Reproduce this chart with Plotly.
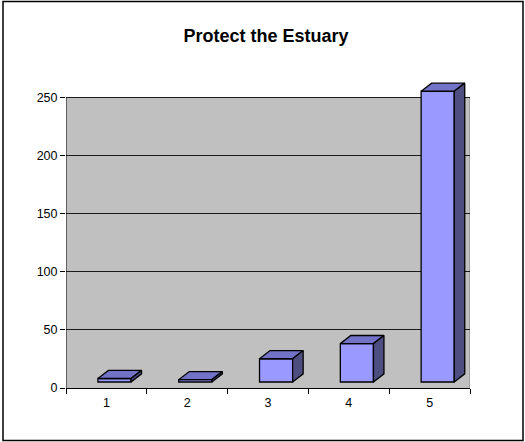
import plotly.graph_objects as go

categories = [1, 2, 3, 4, 5]
values = [3, 2, 20, 33, 250]
y_ticks = [0, 50, 100, 150, 200, 250]

# 3D styling constants (axis units)
BASE = 5.15        # front face lift from depth
SHIFT_X = 0.1      # front face shift from category centre
WIDTH = 0.41
DX = 0.13          # depth offset x
DY = 7.0           # depth offset y

FRONT = "#9999FF"
TOP = "#7272C6"
SIDE = "#4E4E80"

fig = go.Figure()

xc = [c + SHIFT_X for c in categories]
fig.add_trace(go.Bar(x=xc, y=values, base=[BASE] * len(values), width=WIDTH,
                     marker=dict(color=FRONT, line=dict(color="black", width=1.3)),
                     cliponaxis=False, hoverinfo="skip"))

tx, ty, sx, sy = [], [], [], []
for x, v in zip(xc, values):
    x0, x1 = x - WIDTH / 2, x + WIDTH / 2
    top = BASE + v
    tx += [x0, x1, x1 + DX, x0 + DX, x0, None]
    ty += [top, top, top + DY, top + DY, top, None]
    sx += [x1, x1 + DX, x1 + DX, x1, x1, None]
    sy += [BASE, BASE + DY, top + DY, top, BASE, None]

fig.add_trace(go.Scatter(x=tx, y=ty, mode="lines", fill="toself", fillcolor=TOP,
                         line=dict(color="black", width=1.3), hoverinfo="skip"))
fig.add_trace(go.Scatter(x=sx, y=sy, mode="lines", fill="toself", fillcolor=SIDE,
                         line=dict(color="black", width=1.3), hoverinfo="skip"))

# back wall
fig.add_shape(type="rect", xref="x", yref="y", x0=0.5, x1=5.5, y0=0, y1=250,
              fillcolor="#C0C0C0", line=dict(width=0), layer="below")
fig.add_shape(type="line", xref="x", yref="y", x0=5.5, x1=5.5, y0=0, y1=250,
              line=dict(color="#808080", width=1), layer="below")
# value axis line
fig.add_shape(type="line", xref="x", yref="y", x0=0.5, x1=0.5, y0=0, y1=250,
              line=dict(color="black", width=1))
# outer chart border
W, H = 525, 442
L, R, T, B = 66, 55, 74, 54
pw, ph = W - L - R, H - T - B
def px(x): return (x - L) / pw
def py(y): return (H - B - y) / ph
fig.add_shape(type="rect", xref="paper", yref="paper",
              x0=px(3), x1=px(523), y0=py(440.5), y1=py(1.5),
              line=dict(color="black", width=1.5), fillcolor="rgba(0,0,0,0)")

fig.update_layout(
    width=W, height=H,
    margin=dict(l=L, r=R, t=T, b=B),
    paper_bgcolor="white", plot_bgcolor="white",
    showlegend=False,
    font=dict(family="Liberation Sans, Arial, sans-serif", size=12.5, color="black"),
    title=dict(text="<b>Protect the Estuary</b>", x=266 / W, xref="container", xanchor="center",
               y=1 - 35.5 / H, yref="container", yanchor="middle",
               font=dict(size=18, family="Liberation Sans, Arial, sans-serif", color="black")),
    xaxis=dict(range=[0.5, 5.5], tickmode="array", tickvals=categories,
               ticktext=[str(c) for c in categories], ticks="", ticklabelstandoff=3,
               showgrid=False, zeroline=False, showline=True, linecolor="black", linewidth=1,
               minor=dict(tickmode="array", tickvals=[0.5, 1.5, 2.5, 3.5, 4.5, 5.5],
                          ticks="outside", ticklen=5, tickcolor="black", showgrid=False),
               fixedrange=True),
    yaxis=dict(range=[0, 270], tickmode="array", tickvals=y_ticks,
               ticks="outside", ticklen=5, tickcolor="black",
               showgrid=True, gridcolor="#1a1a1a", gridwidth=1,
               zeroline=False, showline=False, fixedrange=True),
)

fig.write_html("out.html", config={"displayModeBar": False},
               post_script="document.body.style.margin='0';document.body.style.overflow='hidden';")
